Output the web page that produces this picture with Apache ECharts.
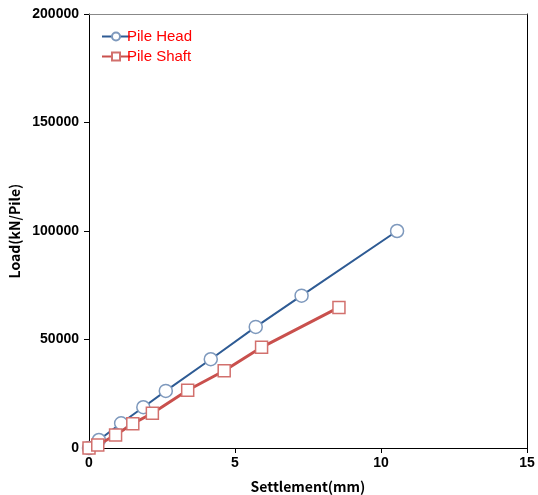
<!DOCTYPE html>
<html><head><meta charset="utf-8">
<script src="https://cdn.jsdelivr.net/npm/echarts@6/dist/echarts.min.js"></script>
<style>html,body{margin:0;padding:0;background:#fff}#c{width:538px;height:495px}</style>
</head><body><div id="c"></div>
<script>
const seriesNames = ['Pile Head', 'Pile Shaft'];
const headSettlement = [0, 0.34, 1.10, 1.86, 2.63, 4.17, 5.71, 7.28, 10.55];
const headLoad = [0, 3700, 11400, 18800, 26300, 40900, 55800, 70200, 100000];
const shaftSettlement = [0, 0.30, 0.91, 1.50, 2.17, 3.38, 4.63, 5.91, 8.56];
const shaftLoad = [0, 1400, 6000, 11200, 16000, 26600, 35600, 46400, 64800];
const xTicks = [0, 5, 10, 15];
const yTicks = [0, 50000, 100000, 150000, 200000];

const font = '"Noto Sans CJK KR", "Noto Sans", sans-serif';
const labelFont = '"Liberation Sans", Arial, sans-serif';
const chart = echarts.init(document.getElementById('c'));
chart.setOption({
  animation: false,
  grid: {left: 89, right: 11, top: 14, bottom: 47, outerBoundsMode: 'none', containLabel: false},
  legend: {
    orient: 'vertical', left: 96, top: 24, itemGap: 5, itemWidth: 28, itemHeight: 10,
    textStyle: {color: '#ff0000', fontSize: 15, fontFamily: labelFont, padding: [0,0,0,-8]},
    data: seriesNames
  },
  xAxis: [{
    type: 'value', min: xTicks[0], max: xTicks[xTicks.length-1], interval: 5,
    name: 'Settlement(mm)', nameLocation: 'middle', nameGap: 32,
    nameTextStyle: {color: '#000', fontSize: 14, fontWeight: 'bold', fontFamily: font},
    axisLine: {show: true, onZero: false, lineStyle: {color: '#000', width: 1}},
    axisTick: {show: true, length: 5, lineStyle: {color: '#000'}},
    axisLabel: {color: '#000', fontSize: 14, fontWeight: 'bold', fontFamily: labelFont, margin: 8,
      formatter: v => String(v)},
    splitLine: {show: false}
  }, {
    type: 'value', position: 'top', min: 0, max: 15,
    axisLine: {show: true, onZero: false, lineStyle: {color: '#888', width: 1}},
    axisTick: {show: false}, axisLabel: {show: false}, splitLine: {show: false}
  }],
  yAxis: [{
    type: 'value', min: yTicks[0], max: yTicks[yTicks.length-1], interval: 50000,
    name: 'Load(kN/Pile)', nameLocation: 'middle', nameGap: 63,
    nameTextStyle: {color: '#000', fontSize: 14, fontWeight: 'bold', fontFamily: font},
    axisLine: {show: true, onZero: false, lineStyle: {color: '#000', width: 1}},
    axisTick: {show: true, length: 5, lineStyle: {color: '#000'}},
    axisLabel: {color: '#000', fontSize: 14, fontWeight: 'bold', fontFamily: labelFont, margin: 10,
      formatter: v => String(v)},
    splitLine: {show: false}
  }, {
    type: 'value', position: 'right', min: 0, max: 200000,
    axisLine: {show: true, onZero: false, lineStyle: {color: '#000', width: 1}},
    axisTick: {show: false}, axisLabel: {show: false}, splitLine: {show: false}
  }],
  series: [{
    name: seriesNames[0], type: 'line',
    data: headSettlement.map((x, i) => [x, headLoad[i]]),
    symbol: 'circle', symbolSize: 13, showAllSymbol: true,
    lineStyle: {color: '#2e5b94', width: 2},
    itemStyle: {color: '#fff', borderColor: '#7e99bd', borderWidth: 1.5},
    z: 2
  }, {
    name: seriesNames[1], type: 'line',
    data: shaftSettlement.map((x, i) => [x, shaftLoad[i]]),
    symbol: 'rect', symbolSize: 12, showAllSymbol: true,
    lineStyle: {color: '#c9504d', width: 3},
    itemStyle: {color: '#fff', borderColor: '#d2706d', borderWidth: 1.5},
    z: 3
  }]
});
</script></body></html>
